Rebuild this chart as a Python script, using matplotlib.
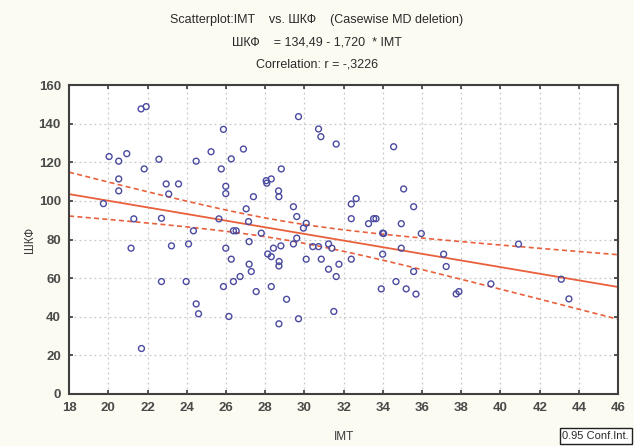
import numpy as np
import matplotlib
matplotlib.use('Agg')
import matplotlib.pyplot as plt

plt.rcParams['font.family'] = ['Liberation Sans', 'DejaVu Sans']
narrow = ['Liberation Sans Narrow', 'Liberation Sans', 'DejaVu Sans']

# IMT (x) values
imt = [29.70, 30.72, 30.84, 31.62, 34.55, 26.89, 26.27, 28.82, 28.05, 28.08,
       28.31, 28.68, 28.70, 27.40, 35.06, 32.64, 32.39, 27.03, 29.44, 29.61,
       27.15, 30.09, 29.95, 32.39, 33.53, 33.65, 33.27, 34.94, 34.04, 26.38,
       26.52, 27.80, 27.18, 29.61, 29.44, 28.42, 28.80, 30.43, 30.72, 31.23,
       31.40, 34.94, 21.67, 21.93, 25.87, 20.04, 20.94, 20.53, 22.58, 24.48,
       25.24, 21.83, 25.76, 20.53, 20.53, 22.95, 23.58, 23.08, 25.99, 25.99,
       19.75, 21.30, 22.71, 25.64, 24.34, 21.16, 23.22, 24.09, 25.99, 26.27,
       22.71, 23.97, 25.87, 26.38, 26.72, 24.48, 24.60, 26.15, 21.69, 28.13,
       28.31, 28.71, 28.70, 30.09, 30.86, 31.76, 31.23, 31.62, 32.39, 33.99,
       33.99, 27.18, 27.29, 27.54, 28.31, 29.09, 28.70, 29.70, 31.50, 33.92,
       34.67, 35.19, 35.57, 35.96, 37.10, 37.23, 35.57, 35.69, 37.74, 37.88,
       39.51, 40.92, 43.10, 43.49]
# ШКФ (y) values
shkf = [143.7, 137.3, 133.3, 129.5, 128.1, 126.9, 121.8, 116.6, 110.5, 109.2,
        111.4, 105.2, 102.2, 102.2, 106.2, 101.2, 98.4, 95.9, 97.0, 91.9,
        89.3, 88.4, 85.9, 90.8, 90.8, 90.8, 88.2, 88.2, 83.1, 84.5,
        84.5, 83.3, 78.9, 80.7, 77.7, 75.5, 76.7, 76.3, 76.3, 77.7,
        75.5, 75.5, 147.7, 148.9, 137.1, 123.0, 124.5, 120.6, 121.6, 120.6,
        125.5, 116.6, 116.6, 111.4, 105.2, 108.8, 108.8, 103.6, 107.6, 103.8,
        98.6, 90.7, 91.0, 90.7, 84.5, 75.5, 76.7, 77.7, 75.5, 69.8,
        58.2, 58.2, 55.6, 58.2, 60.8, 46.6, 41.5, 40.1, 23.5, 72.5,
        71.1, 68.6, 66.3, 69.8, 69.8, 67.2, 64.6, 60.8, 69.8, 83.3,
        72.4, 67.2, 63.4, 53.0, 55.6, 49.0, 36.3, 38.9, 42.7, 54.4,
        58.2, 54.4, 97.0, 83.1, 72.4, 66.0, 63.4, 51.7, 51.8, 53.0,
        57.0, 77.6, 59.4, 49.2]

intercept = 134.49
slope = -1.720
x_ticks = list(range(18, 47, 2))
y_ticks = list(range(0, 161, 20))

x = np.array(imt)
y = np.array(shkf)
n = len(x)

# regression line and 95% confidence band
xs = np.linspace(18, 46, 200)
fit = intercept + slope * xs
resid = y - (intercept + slope * x)
s = np.sqrt(np.sum(resid ** 2) / (n - 2))
sxx = np.sum((x - x.mean()) ** 2)
half = 1.98 * s * np.sqrt(1 / n + (xs - x.mean()) ** 2 / sxx)

fig = plt.figure(figsize=(6.34, 4.46), dpi=100, facecolor='#fcfbf2')
ax = fig.add_axes([0.109, 0.117, 0.866, 0.692])
ax.set_facecolor('white')

ax.scatter(x, y, s=18, facecolors='none', edgecolors='#4a4aa0', linewidths=1.0, zorder=3)
ax.plot(xs, fit, color='#e8603c', lw=1.3, zorder=2)
ax.plot(xs, fit + half, color='#e8603c', lw=1.2, ls=(0, (3, 2)), zorder=2)
ax.plot(xs, fit - half, color='#e8603c', lw=1.2, ls=(0, (3, 2)), zorder=2)

ax.set_xlim(18, 46)
ax.set_ylim(0, 160)
ax.set_xticks(x_ticks)
ax.set_yticks(y_ticks)
ax.grid(True, color='#c8c8c8', ls=(0, (1.5, 2.5)), lw=0.9)
ax.tick_params(direction='in', length=3, top=True, right=True,
               labelsize=9.5, colors='#3a3a3a', width=1.2, pad=6)
for lab in ax.get_xticklabels() + ax.get_yticklabels():
    lab.set_family(narrow)
    lab.set_fontweight('bold')
    lab.set_color('#4a4a4a')
for sp in ax.spines.values():
    sp.set_color('#404040')
    sp.set_linewidth(1.5)

ax.set_xlabel('IMT', fontsize=8.5, color='#3a3a3a', labelpad=12, family=narrow)
ax.set_ylabel('ШКФ', fontsize=8.5, color='#3a3a3a', labelpad=2, family=narrow)

fig.text(0.5, 0.955, 'Scatterplot:IMT    vs. ШКФ    (Casewise MD deletion)',
         ha='center', va='center', fontsize=9, color='#2a2a2a', family=narrow)
fig.text(0.5, 0.905, 'ШКФ    = 134,49 - 1,720  * IMT',
         ha='center', va='center', fontsize=9, color='#2a2a2a', family=narrow)
fig.text(0.5, 0.856, 'Correlation: r = -,3226',
         ha='center', va='center', fontsize=9, color='#2a2a2a', family=narrow)

fig.text(0.992, 0.022, '0.95 Conf.Int.', ha='right', va='center', fontsize=8,
         color='#2a2a2a', family=narrow,
         bbox=dict(boxstyle='square,pad=0.25', fc='white', ec='#202020', lw=1))

fig.savefig('out.png', dpi=100, facecolor=fig.get_facecolor())
